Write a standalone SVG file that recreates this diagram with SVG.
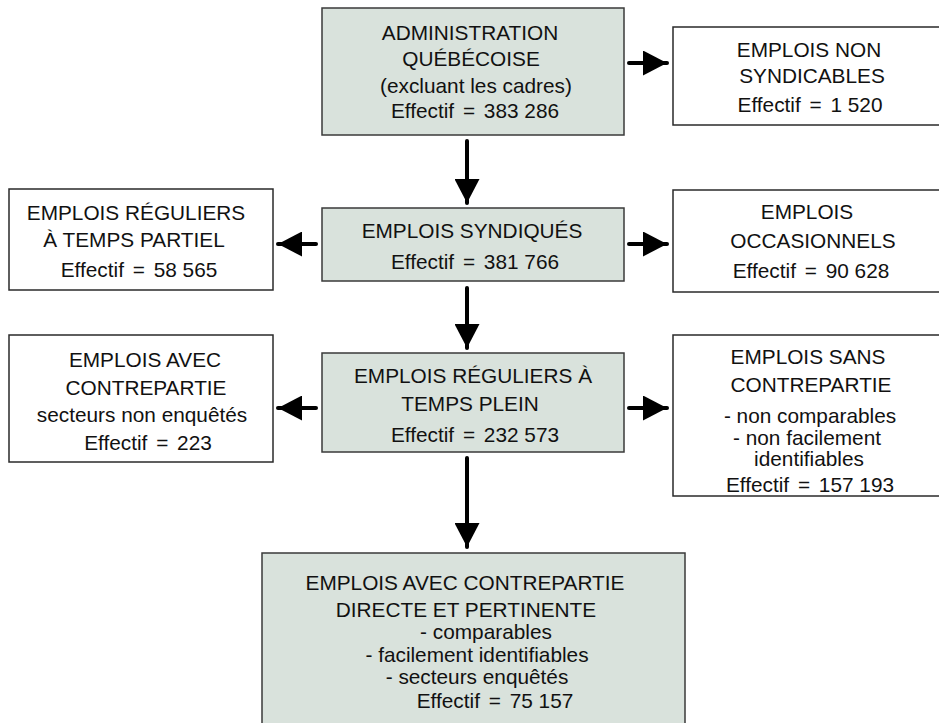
<svg xmlns="http://www.w3.org/2000/svg" width="939" height="723" viewBox="0 0 939 723">
<defs>
<style>
.box{fill:#ffffff;stroke:#2a2a2a;stroke-width:1.5}
.grey{fill:#d9e2dc;stroke:#3a3a3a;stroke-width:1.5}
text{font-family:"Liberation Sans",Arial,Helvetica,sans-serif;font-size:20.8px;fill:#111;text-anchor:middle}
.conn{stroke:#000;stroke-width:4;stroke-linecap:round;fill:none;marker-end:url(#ah)}
</style>
<marker id="ah" markerUnits="userSpaceOnUse" markerWidth="24" markerHeight="25" refX="24" refY="12.5" orient="auto" viewBox="0 0 24 25">
<path d="M0,0 L24,12.5 L0,25 z" fill="#000"/>
</marker>
</defs>
<rect width="939" height="723" fill="#ffffff"/>

<g id="connectors">
<line class="conn" x1="629" y1="63" x2="667" y2="63"/>
<line class="conn" x1="467" y1="141" x2="467" y2="203"/>
<line class="conn" x1="316" y1="244" x2="278" y2="244"/>
<line class="conn" x1="629" y1="244" x2="667" y2="244"/>
<line class="conn" x1="467" y1="288" x2="467" y2="348"/>
<line class="conn" x1="316" y1="408" x2="278" y2="408"/>
<line class="conn" x1="629" y1="408" x2="667" y2="408"/>
<line class="conn" x1="467" y1="458" x2="467" y2="547"/>
</g>

<g id="admin">
<rect class="grey" x="322" y="8" width="302" height="127"/>
<text x="470" y="40">ADMINISTRATION</text>
<text x="471" y="66">QUÉBÉCOISE</text>
<text x="476" y="93">(excluant les cadres)</text>
<text x="475" y="118">Effectif <tspan dx="3">=</tspan><tspan dx="3"> 383 286</tspan></text>
</g>

<g id="non-syndicables">
<rect class="box" x="673" y="27" width="270" height="98"/>
<text x="809" y="57">EMPLOIS NON</text>
<text x="812" y="83">SYNDICABLES</text>
<text x="810" y="112">Effectif <tspan dx="3">=</tspan><tspan dx="3"> 1 520</tspan></text>
</g>

<g id="syndiques">
<rect class="grey" x="322" y="208" width="302" height="73"/>
<text x="472" y="238">EMPLOIS SYNDIQUÉS</text>
<text x="475" y="269">Effectif <tspan dx="3">=</tspan><tspan dx="3"> 381 766</tspan></text>
</g>

<g id="partiel">
<rect class="box" x="9" y="189" width="264" height="101"/>
<text x="136" y="220">EMPLOIS RÉGULIERS</text>
<text x="134" y="247">À TEMPS PARTIEL</text>
<text x="139" y="277">Effectif <tspan dx="3">=</tspan><tspan dx="3"> 58 565</tspan></text>
</g>

<g id="occasionnels">
<rect class="box" x="673" y="190" width="270" height="102"/>
<text x="807" y="219">EMPLOIS</text>
<text x="813" y="248">OCCASIONNELS</text>
<text x="811" y="278">Effectif <tspan dx="3">=</tspan><tspan dx="3"> 90 628</tspan></text>
</g>

<g id="plein">
<rect class="grey" x="322" y="353" width="302" height="99"/>
<text x="473" y="383">EMPLOIS RÉGULIERS À</text>
<text x="470" y="411">TEMPS PLEIN</text>
<text x="475" y="442">Effectif <tspan dx="3">=</tspan><tspan dx="3"> 232 573</tspan></text>
</g>

<g id="avec-contrepartie">
<rect class="box" x="9" y="335" width="264" height="127"/>
<text x="145" y="367">EMPLOIS AVEC</text>
<text x="146" y="395">CONTREPARTIE</text>
<text x="142" y="422">secteurs non enquêtés</text>
<text x="148" y="450">Effectif <tspan dx="3">=</tspan><tspan dx="3"> 223</tspan></text>
</g>

<g id="sans-contrepartie">
<rect class="box" x="673" y="335" width="270" height="161"/>
<text x="808" y="364">EMPLOIS SANS</text>
<text x="811" y="392">CONTREPARTIE</text>
<text x="810" y="423">- non comparables</text>
<text x="807" y="445">- non facilement</text>
<text x="809" y="466">identifiables</text>
<text x="810" y="492">Effectif <tspan dx="3">=</tspan><tspan dx="3"> 157 193</tspan></text>
</g>

<g id="directe">
<rect class="grey" x="262" y="553" width="423" height="180"/>
<text x="465" y="590">EMPLOIS AVEC CONTREPARTIE</text>
<text x="466" y="617">DIRECTE ET PERTINENTE</text>
<text x="486" y="639">- comparables</text>
<text x="477" y="662">- facilement identifiables</text>
<text x="477" y="684">- secteurs enquêtés</text>
<text x="495" y="708">Effectif <tspan dx="3">=</tspan><tspan dx="3"> 75 157</tspan></text>
</g>
</svg>
